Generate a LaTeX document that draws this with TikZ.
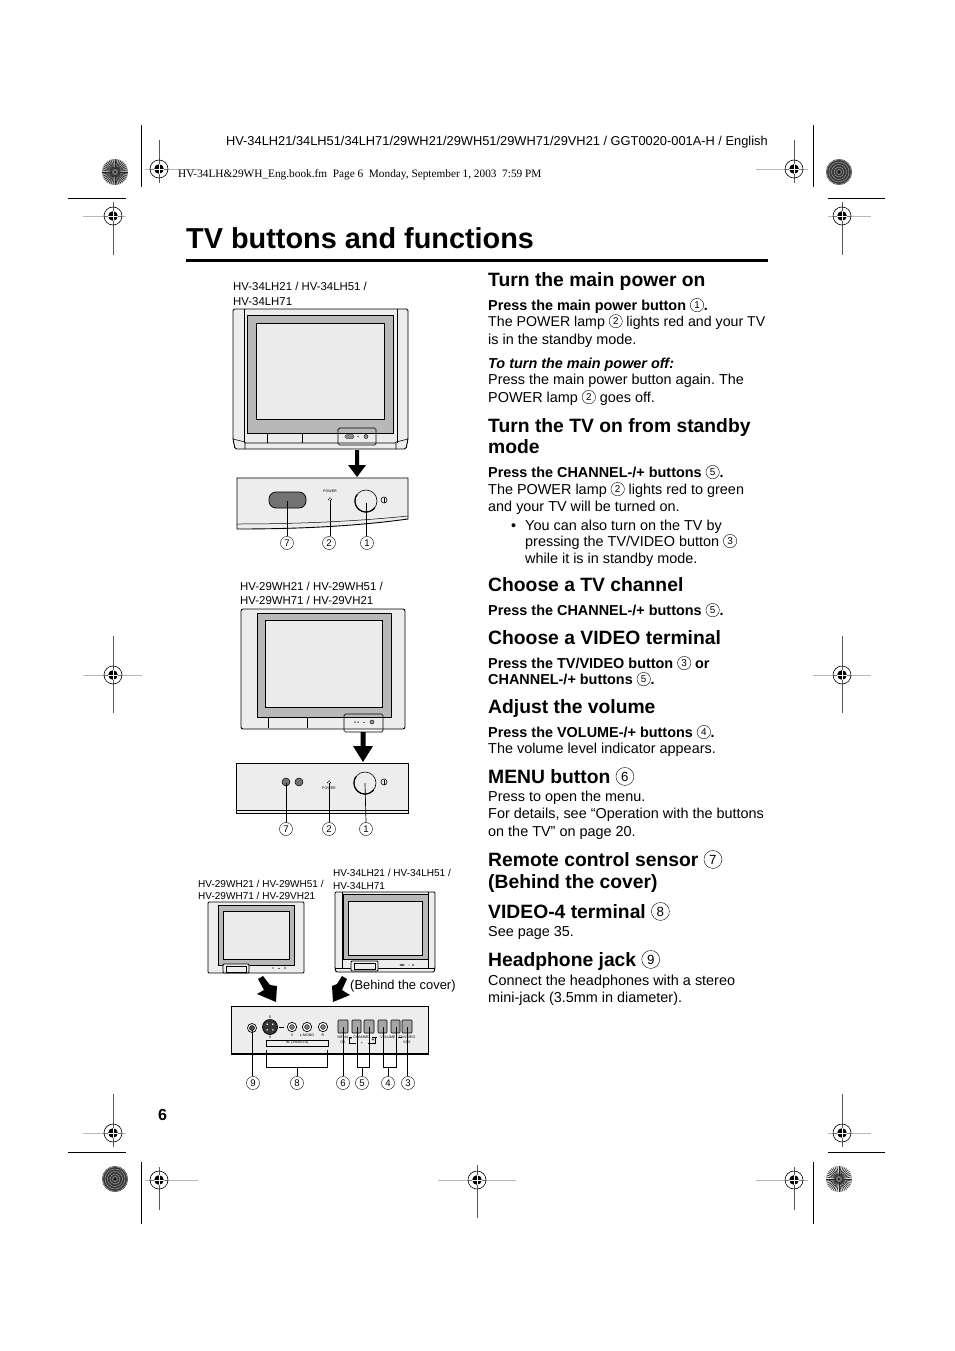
\documentclass[tikz,border=0pt]{standalone}
\usepackage{fontspec}
\setmainfont{Liberation Sans}
\newfontfamily\lsfont{Liberation Serif}
\newlength\cnd
\newlength\cnh
\newcommand{\cn}[1]{{\setlength\cnd{0.93em}\setlength\cnh{0.34em}\edef\cnsz{\the\dimexpr0.74\cnd\relax}%
  \tikz[baseline={([yshift=-\cnh]cc.center)}]{\node[circle,draw,line width=0.4pt,inner sep=0pt,anchor=center,minimum size=\cnd,font=\fontsize{\cnsz}{\cnsz}\selectfont\mdseries\upshape] (cc) at (0,0) {#1};}}}
\newcommand{\fs}[1]{\frenchspacing\fontsize{#1}{#1}\selectfont}
\definecolor{tvgrey}{gray}{0.93}
\definecolor{bezel}{gray}{0.72}
\definecolor{scrn}{gray}{0.92}
\tikzset{
  body/.style={anchor=base west,inner sep=0pt,font=\fs{14.42}},
  bodyb/.style={anchor=base west,inner sep=0pt,font=\fs{14.42}\bfseries},
  head/.style={anchor=base west,inner sep=0pt,font=\fs{19.3}\bfseries},
  model/.style={anchor=base west,inner sep=0pt,font=\fs{11.4}},
  modelsm/.style={anchor=base west,inner sep=0pt,font=\fs{10.03}},
  tiny/.style={inner sep=0pt,font=\fs{3.6}},
  num/.style={inner sep=0pt,font=\fs{14}},
  crop/.style={line width=0.9pt,black},
  leader/.style={line width=0.7pt,black},
  outl/.style={line width=0.9pt,black},
}
\newcommand{\regmark}[6]{% x y ytop ybot xleft xright
  \draw[line width=0.5pt,black!65] (#1,#3) -- (#1,#4);
  \draw[line width=0.9pt,black!28] (#5,#2) -- (#6,#2);
  \fill[white] (#1,#2) circle (9);
  \draw[line width=0.5pt,black!65] (#1,#2-9) -- (#1,#2+9);
  \draw[line width=0.6pt,black!55] (#1-9,#2) -- (#1+9,#2);
  \fill[black] (#1,#2) circle (4.8);
  \draw[line width=0.6pt] (#1,#2) circle (9);
  \draw[line width=0.6pt,white] (#1-5,#2) -- (#1+5,#2) (#1,#2-5) -- (#1,#2+5);
}
\newcommand{\burst}[5]{% x y step width bg
  \begin{scope}[shift={(#1,#2)}]
    \fill[#5] (0,0) circle (13);
    \foreach \a in {0,#3,...,359}{\draw[line width=#4,black!85] (\a:2.5) -- (\a:13);}
    \fill[black!55] (0,0) circle (3);
    \fill[black] (0,0) circle (1);
  \end{scope}
}
\newcommand{\burstdark}[2]{%
  \begin{scope}[shift={(#1,#2)}]
    \fill[black!78] (0,0) circle (13);
    \foreach \r in {2.5,5,7.5,10,12.3}{\draw[line width=0.45pt,black!35] (0,0) circle (\r);}
    \fill[black] (0,0) circle (1);
  \end{scope}
}
\newcommand{\bigbtn}[2]{%
  \filldraw[line width=0.6pt,fill=tvgrey] (#1,#2) circle (11);
  \draw[line width=1.2pt,line cap=round] plot[domain=40:215,samples=25] ({#1+11*cos(\x)},{#2+11*sin(\x)});
}
\begin{document}
\begin{tikzpicture}[x=1pt,y=-1pt]
\useasboundingbox (0,0) rectangle (954,1351);
\fill[white] (0,0) rectangle (954,1351);

% crop marks
\draw[crop] (141,125) -- (141,187);
\draw[crop] (68,198) -- (126,198);
\draw[crop] (813,125) -- (813,187);
\draw[crop] (828,198) -- (885,198);
\draw[crop] (68,1152) -- (126,1152);
\draw[crop] (141,1162) -- (141,1224);
\draw[crop] (828,1152) -- (885,1152);
\draw[crop] (813,1162) -- (813,1224);

% registration marks
\regmark{159}{169}{140}{183}{145}{198}
\regmark{794}{169}{140}{183}{756}{808}
\regmark{113}{216}{202}{255}{83}{126}
\regmark{842}{216}{202}{255}{828}{871}
\regmark{113}{675}{636}{713}{83}{142}
\regmark{842}{675}{636}{713}{813}{871}
\regmark{113}{1133}{1094}{1147}{83}{126}
\regmark{842}{1133}{1094}{1147}{828}{871}
\regmark{159}{1180}{1167}{1210}{145}{198}
\regmark{477}{1180}{1165}{1218}{438}{516}
\regmark{794}{1180}{1167}{1210}{756}{808}

\burst{115}{172}{9}{0.6pt}{black!30}
\burstdark{839}{172}
\burstdark{115}{1179}
\burst{839}{1179}{9}{0.6pt}{black!10}

% header
\node[anchor=base east,inner sep=0pt,font=\fs{12.84}] (hdr) at (768,146) {HV-34LH21/34LH51/34LH71/29WH21/29WH51/29WH71/29VH21 / GGT0020-001A-H / English};
\node[anchor=base west,inner sep=0pt,font=\lsfont\fs{11.3}] (book) at (178,178) {HV-34LH\&29WH\_Eng.book.fm\ \ Page 6\ \ Monday, September 1, 2003\ \ 7:59 PM};
\node[anchor=base west,inner sep=0pt,font=\fs{28.85}\bfseries] (title) at (186,248.4) {TV buttons and functions};
\draw[line width=2.4pt] (186,260.5) -- (768,260.5);
\node[anchor=base west,inner sep=0pt,font=\fs{16}\bfseries] (pg) at (158,1120) {6};

% right column
\node[head] (t1) at (488,286) {Turn the main power on};
\node[bodyb] (t2) at (488,310) {Press the main power button \cn{1}.};
\node[body,font=\fs{14.2}] (t3) at (488,326) {The POWER lamp \cn{2} lights red and your TV};
\node[body] (t4) at (488,344) {is in the standby mode.};
\node[bodyb,font=\fs{14.42}\bfseries\itshape] (t5) at (488,368) {To turn the main power off:};
\node[body] (t6) at (488,384) {Press the main power button again. The};
\node[body] (t7) at (488,402) {POWER lamp \cn{2} goes off.};
\node[head] (t8) at (488,432) {Turn the TV on from standby};
\node[head] (t9) at (488,453) {mode};
\node[bodyb] (t10) at (488,477) {Press the CHANNEL-/+ buttons \cn{5}.};
\node[body] (t11) at (488,494) {The POWER lamp \cn{2} lights red to green};
\node[body] (t12) at (488,511) {and your TV will be turned on.};
\node[body] (t13b) at (511,530) {•};
\node[body] (t13) at (525,530) {You can also turn on the TV by};
\node[body] (t14) at (525,546) {pressing the TV/VIDEO button \cn{3}};
\node[body] (t15) at (525,563) {while it is in standby mode.};
\node[head] (t16) at (488,591) {Choose a TV channel};
\node[bodyb] (t17) at (488,615) {Press the CHANNEL-/+ buttons \cn{5}.};
\node[head] (t18) at (488,644) {Choose a VIDEO terminal};
\node[bodyb] (t19) at (488,668) {Press the TV/VIDEO button \cn{3} or};
\node[bodyb] (t20) at (488,684) {CHANNEL-/+ buttons \cn{5}.};
\node[head] (t21) at (488,713) {Adjust the volume};
\node[bodyb] (t22) at (488,737) {Press the VOLUME-/+ buttons \cn{4}.};
\node[body] (t23) at (488,753) {The volume level indicator appears.};
\node[head] (t24) at (488,783) {MENU button \cn{6}};
\node[body] (t25) at (488,801) {Press to open the menu.};
\node[body] (t26) at (488,818) {For details, see “Operation with the buttons};
\node[body] (t27) at (488,836) {on the TV” on page 20.};
\node[head] (t28) at (488,866) {Remote control sensor \cn{7}};
\node[head] (t29) at (488,888) {(Behind the cover)};
\node[head] (t30) at (488,918) {VIDEO-4 terminal \cn{8}};
\node[body] (t31) at (488,936) {See page 35.};
\node[head] (t32) at (488,966) {Headphone jack \cn{9}};
\node[body] (t33) at (488,985) {Connect the headphones with a stereo};
\node[body] (t34) at (488,1002) {mini-jack (3.5mm in diameter).};

% ---------- TV 1
\node[model] (m1) at (233,290) {HV-34LH21 / HV-34LH51 /};
\node[model] (m2) at (233,305) {HV-34LH71};
\filldraw[outl,fill=tvgrey,rounded corners=1.5] (233,309) -- (408,309) -- (408,439) -- (406,449) -- (235,449) -- (233,439) -- cycle;
\draw[line width=0.6pt] (244,309) -- (244,443) (397,309) -- (397,443);
\draw[line width=0.6pt] (233,439) -- (245,442) -- (245,449) (408,439) -- (396,442) -- (396,449) (245,443) -- (396,443);
\filldraw[line width=0.6pt,fill=bezel] (247,315) rectangle (393,433);
\filldraw[line width=0.8pt,fill=scrn] (256,323) rectangle (384,419);
\draw[line width=0.7pt] (267,433) -- (267,443) (302,433) -- (302,443);
\draw[line width=0.7pt,rounded corners=1.5] (338,428) rectangle (376,445);
\filldraw[line width=0.3pt,fill=black!45,rounded corners=1.5] (345,434.5) rectangle (354,438.5);
\fill[black!60] (358,436.5) circle (0.8);
\filldraw[line width=0.4pt,fill=black!40] (366,436.5) circle (2);
\fill[black] (355,450) -- (359,450) -- (359,465) -- (366,465) -- (357,477) -- (348,465) -- (355,465) -- cycle;

% panel 1
\filldraw[outl,fill=tvgrey] (237,478) -- (408,478) -- (408,519) .. controls (350,527) and (290,529) .. (237,529) -- cycle;
\draw[line width=0.5pt] (237,524) .. controls (290,524) and (350,522) .. (408,516);
\filldraw[line width=0.7pt,fill=black!55,rounded corners=7] (269,492) rectangle (306,508);
\node[tiny] (pw1) at (330,491) {POWER};
\filldraw[line width=0.3pt,fill=white] (330,497.5) -- (332,500) -- (328,500) -- cycle;
\bigbtn{366}{501}
\draw[line width=0.6pt] (384,500) circle (3);
\draw[line width=0.6pt] (384,497.5) -- (384,502.5);
\node[num] (n7a) at (287,543) {\cn{7}};
\node[num] (n2a) at (329,543) {\cn{2}};
\node[num] (n1a) at (367,543) {\cn{1}};
\coordinate (c7a) at (287,501);
\coordinate (c2a) at (330,500);
\coordinate (c1a) at (366,503);
\draw[leader] (n7a) ++(0,-7) -- (c7a);
\draw[leader] (n2a) ++(1,-7) -- (c2a);
\draw[leader] (n1a) ++(-1,-7) -- (c1a);

% ---------- TV 2
\node[model] (m3) at (240,590) {HV-29WH21 / HV-29WH51 /};
\node[model] (m4) at (240,604) {HV-29WH71 / HV-29VH21};
\filldraw[outl,fill=tvgrey,rounded corners=2] (241,609) rectangle (405,729);
\filldraw[line width=0.6pt,fill=bezel] (257,613) rectangle (391,717);
\filldraw[line width=0.8pt,fill=scrn] (265,620) rectangle (382,707);
\draw[line width=0.7pt] (268,717) -- (268,728) (307,717) -- (307,728);
\draw[line width=0.7pt,rounded corners=1.5] (344,714) rectangle (383,732);
\fill[black!60] (355,722) circle (1) (358,722) circle (1);
\draw[line width=0.5pt,black!60] (363,722) -- (365,722);
\filldraw[line width=0.4pt,fill=black!40] (372,722) circle (2);
\fill[black] (360.5,732) -- (365.5,732) -- (365.5,746) -- (373,746) -- (363,762) -- (353,746) -- (360.5,746) -- cycle;

% panel 2
\filldraw[outl,fill=tvgrey] (236,763) rectangle (408,813);
\draw[line width=0.6pt] (236,810) -- (408,810);
\filldraw[line width=0.5pt,fill=black!55] (286,782) circle (4);
\filldraw[line width=0.5pt,fill=black!55] (299,782) circle (4);
\node[tiny] (pw2) at (329,788) {POWER};
\filldraw[line width=0.3pt,fill=white] (329,780.5) -- (331,783) -- (327,783) -- cycle;
\bigbtn{365}{783}
\draw[line width=0.6pt] (384,782) circle (3);
\draw[line width=0.6pt] (384,779.5) -- (384,784.5);
\node[num] (n7b) at (286,829) {\cn{7}};
\node[num] (n2b) at (329,829) {\cn{2}};
\node[num] (n1b) at (366,829) {\cn{1}};
\coordinate (c7b) at (286,783);
\coordinate (c2b) at (329,783);
\coordinate (c1b) at (365,783);
\draw[leader] (n7b) ++(0,-7) -- (c7b);
\draw[leader] (n2b) ++(0,-7) -- (c2b);
\draw[leader] (n1b) ++(0,-7) -- (c1b);

% ---------- bottom TVs
\node[modelsm] (m5) at (198,887) {HV-29WH21 / HV-29WH51 /};
\node[modelsm] (m6) at (198,899) {HV-29WH71 / HV-29VH21};
\node[modelsm] (m7) at (333,876) {HV-34LH21 / HV-34LH51 /};
\node[modelsm] (m8) at (333,889) {HV-34LH71};

\filldraw[outl,fill=tvgrey,rounded corners=1] (208,902) rectangle (304,973);
\filldraw[line width=0.5pt,fill=bezel] (218,905) rectangle (294,965);
\filldraw[line width=0.7pt,fill=scrn] (223,911) rectangle (289,959);
\filldraw[line width=0.8pt,fill=tvgrey,rounded corners=1] (223,964) rectangle (249,973);
\draw[line width=0.4pt] (226,966) rectangle (246,972);
\fill[black!60] (273,968) circle (0.8) (285,968) circle (1.2);
\draw[line width=0.5pt,black!60] (278,968) -- (280,968);

\filldraw[outl,fill=tvgrey,rounded corners=1] (335,892) -- (435,892) -- (435,968) -- (434,972) -- (336,972) -- (335,968) -- cycle;
\draw[line width=0.5pt] (342,892) -- (342,968) (428,892) -- (428,968) (335,968) -- (435,968);
\filldraw[line width=0.5pt,fill=bezel] (343,894) rectangle (428,959);
\filldraw[line width=0.7pt,fill=scrn] (348,901) rectangle (422,955);
\filldraw[line width=0.8pt,fill=tvgrey,rounded corners=1] (351,961) rectangle (378,971);
\draw[line width=0.4pt] (354,963) rectangle (375,969);
\fill[black!60] (402,965) ellipse (2.5 and 1.2) (409,965) circle (0.6) (413,965) circle (1.2);

% diagonal arrows
\fill[black] (258,979) -- (263,976) -- (270,985) -- (277,986) -- (276,1002) -- (257,994) -- (264,990) -- cycle;
\fill[black] (347,979) -- (342,976) -- (337,984) -- (332,986) -- (333,1002) -- (350,995) -- (342,990) -- cycle;

\node[anchor=base west,inner sep=0pt,font=\fs{12.9}] (bc) at (350,989) {(Behind the cover)};

% ---------- panel 3
\filldraw[outl,fill=tvgrey] (231,1006) rectangle (428,1054);
\draw[line width=1.2pt] (231,1054) -- (428,1054);
% jacks
\filldraw[line width=0.7pt,fill=white] (252,1028) circle (4.5);
\filldraw[line width=0.5pt,fill=black!70] (252,1028) circle (2.5);
\filldraw[line width=0.7pt,fill=black!80] (270,1027) circle (7.5);
\foreach \a in {45,135,225,315}{\fill[white] (270,1027) ++(\a:4) circle (0.9);}
\node[tiny] (sT) at (270,1017) {S};
\node[tiny] (sB) at (270,1037) {S};
\draw[line width=0.7pt] (279,1027) -- (284,1027);
\foreach \x in {292,307,323}{
  \filldraw[line width=0.7pt,fill=white] (\x,1027) circle (4.7);
  \filldraw[line width=0.4pt,fill=black!50] (\x,1027) circle (2.4);
}
\node[tiny] (jv) at (292,1035) {V};
\node[tiny] (jl) at (307,1035) {L-MONO};
\node[tiny] (jr) at (323,1035) {R};
\node[draw,line width=0.4pt,minimum width=62,minimum height=6,inner sep=0pt,font=\fs{3.6}] (inv) at (297,1043) {IN \ (VIDEO-4)};
% buttons
\foreach \n/\xa/\xb in {a/338/348,b/352/361,c/364/374,d/378/387,e/391/400,f/402/412}{
  \filldraw[line width=0.6pt,fill=black!35,rounded corners=0.8] (\xa,1020) rectangle (\xb,1033);
}
\node[tiny] (lmn) at (343,1037) {MENU};
\node[tiny] (lok) at (343,1042) {OK};
\node[tiny] (lch) at (362,1037) {CHANNEL};
\node[tiny] (lvo) at (388,1037) {VOLUME};
\node[tiny] (ltv) at (407,1037) {TV/VIDEO};
\node[tiny] (lss) at (407,1042) {SSS};
\draw[line width=0.4pt] (352,1037) -- (349,1037) -- (349,1043) -- (356,1043)
  (372,1037) -- (375,1037) -- (375,1043) -- (368,1043)
  (377,1037) -- (374,1037)  (398,1037) -- (402,1037);
\node[tiny,font=\fs{5}\bfseries] (minus) at (351,1040) {-};
\node[tiny,font=\fs{5}\bfseries] (plus) at (373,1040) {+};
\node[tiny] (ldn) at (362,1043) {+};
% leaders
\node[num] (n9) at (253,1083) {\cn{9}};
\node[num] (n8) at (297,1083) {\cn{8}};
\node[num] (n6) at (343,1083) {\cn{6}};
\node[num] (n5) at (362,1083) {\cn{5}};
\node[num] (n4) at (388,1083) {\cn{4}};
\node[num] (n3) at (408,1083) {\cn{3}};
\coordinate (c9) at (252,1030);
\coordinate (c6) at (343,1027);
\coordinate (c3) at (407,1027);
\draw[leader] (n9) ++(-1,-7) -- (c9);
\draw[leader] (n6) ++(0,-7) -- (c6);
\draw[leader] (n3) ++(-1,-7) -- (c3);
\draw[leader] (266,1050) -- (266,1067) -- (327,1067) -- (327,1050);
\draw[leader] (n8) ++(0,-7) -- (297,1067);
\draw[leader] (357,1027) -- (357,1067) -- (369,1067) -- (369,1027);
\draw[leader] (n5) ++(0,-7) -- (362,1067);
\draw[leader] (383,1027) -- (383,1067) -- (396,1067) -- (396,1027);
\draw[leader] (n4) ++(0,-7) -- (388,1067);
\end{tikzpicture}
\end{document}
